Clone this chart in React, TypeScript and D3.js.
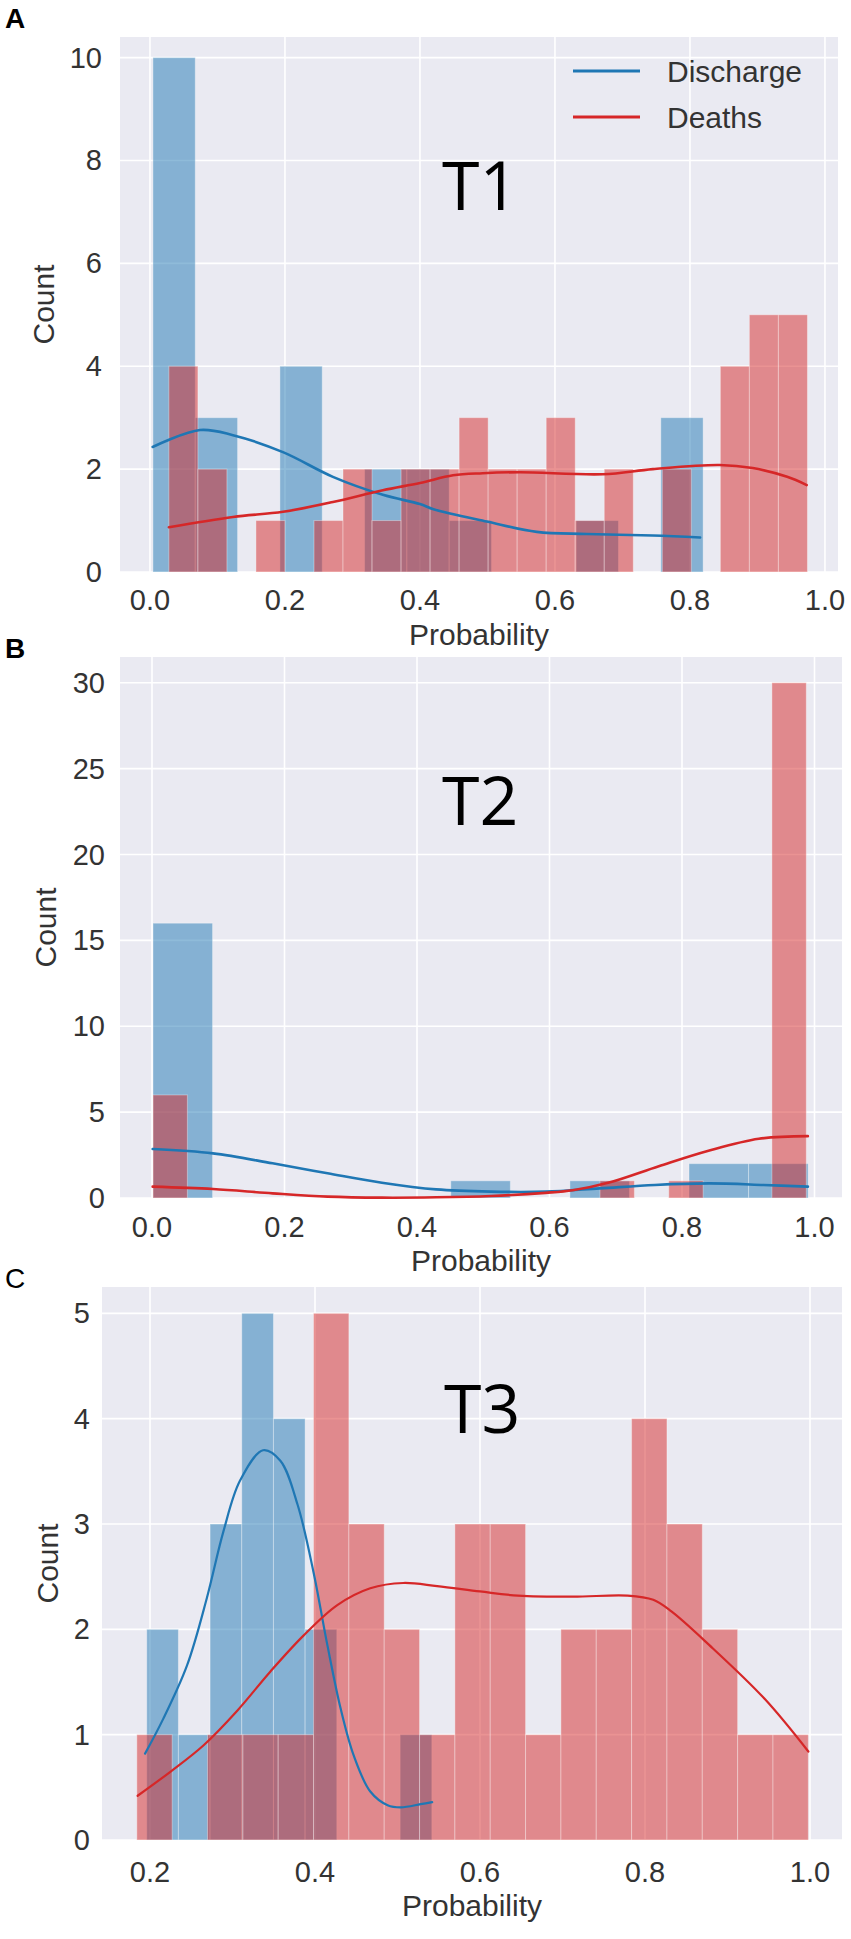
import { useEffect, useRef } from "react";
import * as d3 from "d3";

// T1 histogram bins (Probability), counts read per bin
const t1DischargeBinStart = 0.0044;
const t1DischargeBinWidth = 0.0627;
const t1DischargeCounts = [10, 3, 0, 4, 0, 2, 2, 1, 0, 0, 1, 0, 3];
const t1DeathsBinStart = 0.028;
const t1DeathsBinWidth = 0.043;
const t1DeathsCounts = [4, 2, 0, 1, 0, 1, 2, 1, 2, 2, 3, 2, 2, 3, 1, 2, 0, 2, 0, 4, 5, 5];
const t1DischargeKdeX = [0.004, 0.074, 0.123, 0.197, 0.271, 0.345, 0.4, 0.42, 0.499, 0.573, 0.647, 0.745, 0.815];
const t1DischargeKdeY = [2.43, 2.76, 2.66, 2.33, 1.85, 1.5, 1.32, 1.22, 0.98, 0.78, 0.74, 0.71, 0.67];
const t1DeathsKdeX = [0.028, 0.123, 0.197, 0.271, 0.345, 0.4, 0.449, 0.493, 0.548, 0.671, 0.745, 0.844, 0.893, 0.944, 0.973];
const t1DeathsKdeY = [0.87, 1.07, 1.17, 1.36, 1.59, 1.73, 1.88, 1.92, 1.94, 1.9, 2.0, 2.08, 2.02, 1.85, 1.69];

// T2
const t2DischargeBinStart = 0.0015;
const t2DischargeBinWidth = 0.0899;
const t2DischargeCounts = [16, 0, 0, 0, 0, 1, 0, 1, 0, 2, 2];
const t2DeathsBinStart = 0.0015;
const t2DeathsBinWidth = 0.0519;
const t2DeathsCounts = [6, 0, 0, 0, 0, 0, 0, 0, 0, 0, 0, 0, 0, 1, 0, 1, 0, 0, 30];
const t2DischargeKdeX = [0.001, 0.092, 0.182, 0.265, 0.347, 0.429, 0.512, 0.594, 0.676, 0.759, 0.841, 0.923, 0.99];
const t2DischargeKdeY = [2.85, 2.6, 2.02, 1.44, 0.89, 0.5, 0.37, 0.37, 0.56, 0.76, 0.85, 0.76, 0.66];
const t2DeathsKdeX = [0.001, 0.092, 0.182, 0.265, 0.347, 0.429, 0.512, 0.594, 0.635, 0.69, 0.765, 0.84, 0.916, 0.99];
const t2DeathsKdeY = [0.66, 0.52, 0.27, 0.08, 0.02, 0.04, 0.12, 0.3, 0.45, 0.9, 1.85, 2.75, 3.45, 3.6];

// T3
const t3DischargeBinStart = 0.196;
const t3DischargeBinWidth = 0.0384;
const t3DischargeCounts = [2, 1, 3, 5, 4, 2, 0, 0, 1];
const t3DeathsBinStart = 0.184;
const t3DeathsBinWidth = 0.04284;
const t3DeathsCounts = [1, 0, 1, 1, 1, 5, 3, 2, 1, 3, 3, 1, 2, 2, 4, 3, 2, 1, 1];
const t3DischargeKdeX = [0.194, 0.216, 0.245, 0.269, 0.289, 0.309, 0.337, 0.358, 0.379, 0.398, 0.415, 0.431, 0.447, 0.467, 0.488, 0.504, 0.528, 0.542];
const t3DischargeKdeY = [0.82, 1.15, 1.66, 2.3, 2.93, 3.41, 3.7, 3.6, 3.18, 2.55, 1.85, 1.25, 0.8, 0.46, 0.33, 0.31, 0.34, 0.36];
const t3DeathsKdeX = [0.185, 0.225, 0.265, 0.306, 0.346, 0.386, 0.427, 0.467, 0.507, 0.548, 0.6, 0.646, 0.713, 0.779, 0.81, 0.832, 0.878, 0.945, 0.998];
const t3DeathsKdeY = [0.42, 0.65, 0.9, 1.23, 1.6, 1.94, 2.23, 2.39, 2.44, 2.41, 2.36, 2.32, 2.31, 2.32, 2.28, 2.17, 1.85, 1.34, 0.84];

const xTicksAB = [0, 0.2, 0.4, 0.6, 0.8, 1.0];
const xTicksC = [0.2, 0.4, 0.6, 0.8, 1.0];
const yTicksA = [0, 2, 4, 6, 8, 10];
const yTicksB = [0, 5, 10, 15, 20, 25, 30];
const yTicksC = [0, 1, 2, 3, 4, 5];
const legendLabels = ["Discharge", "Deaths"];

const BLUE = "#1f77b4";
const RED = "#d62728";
const FONT = "'Liberation Sans', Arial, sans-serif";

type Panel = {
  letter: string;
  letterWeight: number;
  letterY: number;
  tag: string;
  tagX: number;
  tagY: number;
  xDomain: [number, number];
  xRange: [number, number];
  yDomain: [number, number];
  yRange: [number, number];
  xTicks: number[];
  yTicks: number[];
  yLabelRight: number;
  countX: number;
  xTickY: number;
  xTitleY: number;
  lineWidth: number;
  series: {
    color: string;
    start: number;
    width: number;
    counts: number[];
    kx: number[];
    ky: number[];
  }[];
  legend: boolean;
};

const panels: Panel[] = [
  {
    letter: "A",
    letterWeight: 700,
    letterY: 28,
    tag: "T1",
    tagX: 442,
    tagY: 210,
    xDomain: [-0.0444, 1.0193],
    xRange: [120, 838],
    yDomain: [0, 10.4],
    yRange: [572, 37],
    xTicks: xTicksAB,
    yTicks: yTicksA,
    yLabelRight: 102,
    countX: 54,
    xTickY: 610,
    xTitleY: 645,
    lineWidth: 2.6,
    series: [
      { color: BLUE, start: t1DischargeBinStart, width: t1DischargeBinWidth, counts: t1DischargeCounts, kx: t1DischargeKdeX, ky: t1DischargeKdeY },
      { color: RED, start: t1DeathsBinStart, width: t1DeathsBinWidth, counts: t1DeathsCounts, kx: t1DeathsKdeX, ky: t1DeathsKdeY },
    ],
    legend: true,
  },
  {
    letter: "B",
    letterWeight: 700,
    letterY: 658,
    tag: "T2",
    tagX: 442,
    tagY: 825,
    xDomain: [-0.0483, 1.0415],
    xRange: [120, 842],
    yDomain: [0, 31.5],
    yRange: [1198, 657],
    xTicks: xTicksAB,
    yTicks: yTicksB,
    yLabelRight: 105,
    countX: 56,
    xTickY: 1237,
    xTitleY: 1271,
    lineWidth: 2.6,
    series: [
      { color: BLUE, start: t2DischargeBinStart, width: t2DischargeBinWidth, counts: t2DischargeCounts, kx: t2DischargeKdeX, ky: t2DischargeKdeY },
      { color: RED, start: t2DeathsBinStart, width: t2DeathsBinWidth, counts: t2DeathsCounts, kx: t2DeathsKdeX, ky: t2DeathsKdeY },
    ],
    legend: false,
  },
  {
    letter: "C",
    letterWeight: 400,
    letterY: 1288,
    tag: "T3",
    tagX: 444,
    tagY: 1433,
    xDomain: [0.1418, 1.0388],
    xRange: [102, 842],
    yDomain: [0, 5.25],
    yRange: [1840, 1287],
    xTicks: xTicksC,
    yTicks: yTicksC,
    yLabelRight: 90,
    countX: 58,
    xTickY: 1882,
    xTitleY: 1916,
    lineWidth: 2.2,
    series: [
      { color: BLUE, start: t3DischargeBinStart, width: t3DischargeBinWidth, counts: t3DischargeCounts, kx: t3DischargeKdeX, ky: t3DischargeKdeY },
      { color: RED, start: t3DeathsBinStart, width: t3DeathsBinWidth, counts: t3DeathsCounts, kx: t3DeathsKdeX, ky: t3DeathsKdeY },
    ],
    legend: false,
  },
];

export default function App() {
  const svgRef = useRef<SVGSVGElement>(null);

  useEffect(() => {
    if (!svgRef.current) return;
    const svg = d3.select(svgRef.current);
    svg.selectAll("*").remove();

    svg.append("rect").attr("width", 851).attr("height", 1939).attr("fill", "#fff");

    panels.forEach((p) => {
      const x = d3.scaleLinear().domain(p.xDomain).range(p.xRange);
      const y = d3.scaleLinear().domain(p.yDomain).range(p.yRange);
      const g = svg.append("g");

      // axes background
      g.append("rect")
        .attr("x", p.xRange[0])
        .attr("y", p.yRange[1])
        .attr("width", p.xRange[1] - p.xRange[0])
        .attr("height", p.yRange[0] - p.yRange[1])
        .attr("fill", "#eaeaf2");

      // gridlines
      g.selectAll("line.vgrid")
        .data(p.xTicks)
        .enter()
        .append("line")
        .attr("x1", (d) => x(d))
        .attr("x2", (d) => x(d))
        .attr("y1", p.yRange[1])
        .attr("y2", p.yRange[0])
        .attr("stroke", "#fff")
        .attr("stroke-width", 1.6);

      g.selectAll("line.hgrid")
        .data(p.yTicks)
        .enter()
        .append("line")
        .attr("x1", p.xRange[0])
        .attr("x2", p.xRange[1])
        .attr("y1", (d) => y(d))
        .attr("y2", (d) => y(d))
        .attr("stroke", "#fff")
        .attr("stroke-width", 1.6);

      // histogram bars
      p.series.forEach((s) => {
        const bins = s.counts
          .map((c, i) => ({ x0: s.start + i * s.width, x1: s.start + (i + 1) * s.width, c }))
          .filter((b) => b.c > 0);
        g.append("g")
          .selectAll("rect")
          .data(bins)
          .enter()
          .append("rect")
          .attr("x", (b) => x(b.x0))
          .attr("width", (b) => x(b.x1) - x(b.x0))
          .attr("y", (b) => y(b.c))
          .attr("height", (b) => y(0) - y(b.c))
          .attr("fill", s.color)
          .attr("fill-opacity", 0.5)
          .attr("stroke", "#fff")
          .attr("stroke-opacity", 0.35)
          .attr("stroke-width", 1);
      });

      // kde lines
      p.series.forEach((s) => {
        const pts = s.kx.map((v, i) => [v, s.ky[i]] as [number, number]);
        const line = d3
          .line<[number, number]>()
          .x((d) => x(d[0]))
          .y((d) => y(d[1]))
          .curve(d3.curveCatmullRom.alpha(0.5));
        g.append("path")
          .datum(pts)
          .attr("fill", "none")
          .attr("stroke", s.color)
          .attr("stroke-width", p.lineWidth)
          .attr("stroke-linecap", "round")
          .attr("d", line);
      });

      // tick labels
      g.selectAll("text.xt")
        .data(p.xTicks)
        .enter()
        .append("text")
        .attr("x", (d) => x(d))
        .attr("y", p.xTickY)
        .attr("text-anchor", "middle")
        .attr("font-family", FONT)
        .attr("font-size", 29)
        .attr("fill", "#333")
        .text((d) => d.toFixed(1));

      g.selectAll("text.yt")
        .data(p.yTicks)
        .enter()
        .append("text")
        .attr("x", p.yLabelRight)
        .attr("y", (d) => y(d) + 10)
        .attr("text-anchor", "end")
        .attr("font-family", FONT)
        .attr("font-size", 29)
        .attr("fill", "#333")
        .text((d) => String(d));

      // axis titles
      g.append("text")
        .attr("x", (p.xRange[0] + p.xRange[1]) / 2)
        .attr("y", p.xTitleY)
        .attr("text-anchor", "middle")
        .attr("font-family", FONT)
        .attr("font-size", 30)
        .attr("fill", "#333")
        .text("Probability");

      g.append("text")
        .attr("transform", `translate(${p.countX},${(p.yRange[0] + p.yRange[1]) / 2}) rotate(-90)`)
        .attr("text-anchor", "middle")
        .attr("font-family", FONT)
        .attr("font-size", 30)
        .attr("fill", "#333")
        .text("Count");

      // panel letter
      g.append("text")
        .attr("x", 5)
        .attr("y", p.letterY)
        .attr("font-family", FONT)
        .attr("font-size", 28)
        .attr("font-weight", p.letterWeight)
        .attr("fill", "#000")
        .text(p.letter);

      // T label
      g.append("text")
        .attr("x", p.tagX)
        .attr("y", p.tagY)
        .attr("font-family", "'Open Sans', sans-serif")
        .attr("font-size", 68)
        .attr("fill", "#000")
        .text(p.tag);

      if (p.legend) {
        const leg = g.append("g");
        [BLUE, RED].forEach((c, i) => {
          const ly = 71 + i * 46;
          leg.append("line")
            .attr("x1", 573)
            .attr("x2", 640)
            .attr("y1", ly)
            .attr("y2", ly)
            .attr("stroke", c)
            .attr("stroke-width", 2.8);
          leg.append("text")
            .attr("x", 667)
            .attr("y", ly + 11)
            .attr("font-family", FONT)
            .attr("font-size", 30)
            .attr("fill", "#333")
            .text(legendLabels[i]);
        });
      }
    });
  }, []);

  return (
    <div style={{ position: "absolute", left: 0, top: 0 }}>
      <svg ref={svgRef} width={851} height={1939} style={{ display: "block" }} />
    </div>
  );
}
